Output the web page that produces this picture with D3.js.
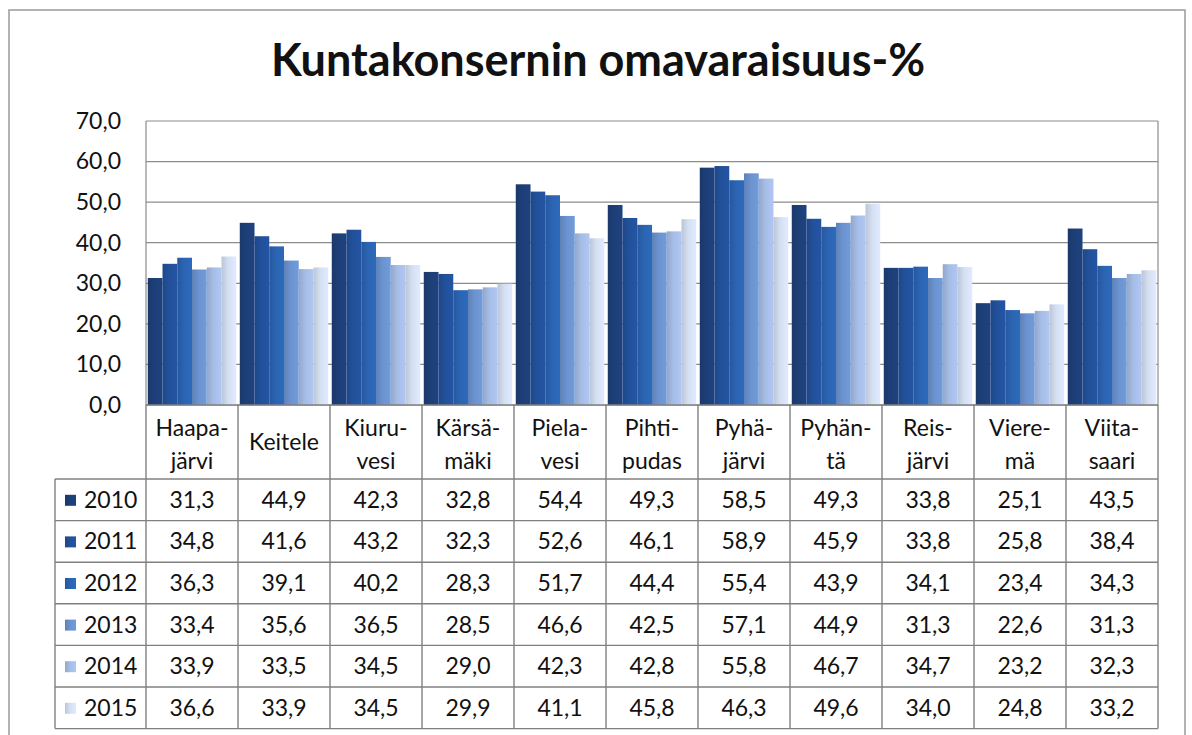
<!DOCTYPE html>
<html>
<head>
<meta charset="utf-8">
<script src="https://cdn.jsdelivr.net/npm/d3@7"></script>
<style>
  body { margin: 0; background: #fff; }
  text { font-family: Lato, "Open Sans", sans-serif; fill: #111; }
</style>
</head>
<body>
<svg id="chart" width="1192" height="735"></svg>
<script>
// data
var categories = ['Haapajärvi','Keitele','Kiuruvesi','Kärsämäki','Pielavesi','Pihtipudas','Pyhäjärvi','Pyhäntä','Reisjärvi','Vieremä','Viitasaari'];
var categoryLines = [['Haapa-','järvi'],['Keitele'],['Kiuru-','vesi'],['Kärsä-','mäki'],['Piela-','vesi'],['Pihti-','pudas'],['Pyhä-','järvi'],['Pyhän-','tä'],['Reis-','järvi'],['Viere-','mä'],['Viita-','saari']];
var years = ['2010','2011','2012','2013','2014','2015'];
var v2010 = [31.3,44.9,42.3,32.8,54.4,49.3,58.5,49.3,33.8,25.1,43.5];
var v2011 = [34.8,41.6,43.2,32.3,52.6,46.1,58.9,45.9,33.8,25.8,38.4];
var v2012 = [36.3,39.1,40.2,28.3,51.7,44.4,55.4,43.9,34.1,23.4,34.3];
var v2013 = [33.4,35.6,36.5,28.5,46.6,42.5,57.1,44.9,31.3,22.6,31.3];
var v2014 = [33.9,33.5,34.5,29.0,42.3,42.8,55.8,46.7,34.7,23.2,32.3];
var v2015 = [36.6,33.9,34.5,29.9,41.1,45.8,46.3,49.6,34.0,24.8,33.2];
var series = [v2010,v2011,v2012,v2013,v2014,v2015];
var yTicks = [0,10,20,30,40,50,60,70];
var colors = ['#1d3f78','#22519b','#2b64b2','#6b93cf','#a6bde6','#d4dff2'];

var svg = d3.select('#chart');
var fmt = function(d){ return d3.format('.1f')(d).replace('.', ','); };

var plotLeft = 146, plotRight = 1158, plotTop = 121, plotBottom = 405;
var tableLeft = 55, headerBottom = 479, rowH = 41.6;
var fs = '23px';

// outer frame
svg.append('rect')
  .attr('x', 9).attr('y', 10).attr('width', 1176).attr('height', 740)
  .attr('fill', 'none').attr('stroke', '#9a9a9a').attr('stroke-width', 1.5);

svg.append('text')
  .attr('x', 598).attr('y', 76)
  .attr('text-anchor', 'middle')
  .style('font-size', '45px').style('font-weight', 'bold')
  .text('Kuntakonsernin omavaraisuus-%');

var x = d3.scaleBand().domain(categories).range([plotLeft, plotRight]).paddingInner(0).paddingOuter(0);
var y = d3.scaleLinear().domain([0, 70]).range([plotBottom, plotTop]);
var xs = d3.scaleBand().domain(years).range([0, x.bandwidth()]).paddingOuter(0.12).paddingInner(0);

// gridlines
svg.append('g').selectAll('line').data(yTicks).enter().append('line')
  .attr('x1', plotLeft).attr('x2', plotRight)
  .attr('y1', function(d){ return y(d); }).attr('y2', function(d){ return y(d); })
  .attr('stroke', '#8c8c8c').attr('stroke-width', 1.2);
svg.append('line').attr('x1', plotLeft).attr('x2', plotLeft).attr('y1', plotTop).attr('y2', plotBottom)
  .attr('stroke', '#8c8c8c').attr('stroke-width', 1.2);
svg.append('line').attr('x1', plotRight).attr('x2', plotRight).attr('y1', plotTop).attr('y2', plotBottom)
  .attr('stroke', '#8c8c8c').attr('stroke-width', 1.2);

// y axis labels
var yAxis = d3.axisLeft(y).tickValues(yTicks).tickFormat(fmt).tickSize(0).tickPadding(25);
var ya = svg.append('g').attr('transform', 'translate(' + plotLeft + ',0)').call(yAxis);
ya.select('.domain').remove();
ya.selectAll('text').style('font-size', fs).style('font-family', 'Lato, "Open Sans", sans-serif').attr('fill', '#111');

// bar gradients
var defs = svg.append('defs');
colors.forEach(function(c, i){
  var g = defs.append('linearGradient').attr('id', 'g' + i).attr('x1', 0).attr('x2', 1).attr('y1', 0).attr('y2', 0);
  g.append('stop').attr('offset', '0%').attr('stop-color', d3.color(c).darker(0.35));
  g.append('stop').attr('offset', '45%').attr('stop-color', c);
  g.append('stop').attr('offset', '100%').attr('stop-color', d3.color(c).brighter(0.15));
});

// bars
series.forEach(function(vals, si){
  svg.append('g').selectAll('rect').data(vals).enter().append('rect')
    .attr('x', function(d, i){ return x(categories[i]) + xs(years[si]); })
    .attr('y', function(d){ return y(d); })
    .attr('width', xs.bandwidth())
    .attr('height', function(d){ return y(0) - y(d); })
    .attr('fill', 'url(#g' + si + ')');
});

// data table
var tableBottom = headerBottom + rowH * years.length;
var tg = svg.append('g');
var lineColor = '#808080';
tg.append('line').attr('x1', plotLeft).attr('x2', plotRight).attr('y1', plotBottom).attr('y2', plotBottom).attr('stroke', lineColor).attr('stroke-width', 1.4);
d3.range(years.length + 1).forEach(function(r){
  var yy = headerBottom + r * rowH;
  tg.append('line').attr('x1', tableLeft).attr('x2', plotRight).attr('y1', yy).attr('y2', yy)
    .attr('stroke', lineColor).attr('stroke-width', 1.4);
});
categories.concat(['end']).forEach(function(c, i){
  var xx = i < categories.length ? x(c) : plotRight;
  tg.append('line').attr('x1', xx).attr('x2', xx).attr('y1', plotBottom).attr('y2', tableBottom)
    .attr('stroke', lineColor).attr('stroke-width', 1.4);
});
tg.append('line').attr('x1', tableLeft).attr('x2', tableLeft).attr('y1', headerBottom).attr('y2', tableBottom)
  .attr('stroke', lineColor).attr('stroke-width', 1.4);

// category headers
categoryLines.forEach(function(lines, i){
  var cx = x(categories[i]) + x.bandwidth() / 2;
  var t = tg.append('text').attr('text-anchor', 'middle').style('font-size', fs);
  if (lines.length === 1) {
    t.attr('x', cx).attr('y', (plotBottom + headerBottom) / 2 + 8).text(lines[0]);
  } else {
    t.append('tspan').attr('x', cx).attr('y', plotBottom + 31).text(lines[0]);
    t.append('tspan').attr('x', cx).attr('y', plotBottom + 64).text(lines[1]);
  }
});

// rows
years.forEach(function(yr, r){
  var cy = headerBottom + r * rowH + rowH / 2;
  tg.append('rect').attr('x', 65).attr('y', cy - 5).attr('width', 11).attr('height', 11)
    .attr('fill', 'url(#g' + r + ')');
  tg.append('text').attr('x', 84).attr('y', cy + 8).style('font-size', fs).text(yr);
  series[r].forEach(function(v, i){
    tg.append('text').attr('x', x(categories[i]) + x.bandwidth() / 2).attr('y', cy + 8)
      .attr('text-anchor', 'middle').style('font-size', fs).text(fmt(v));
  });
});
</script>
</body>
</html>
